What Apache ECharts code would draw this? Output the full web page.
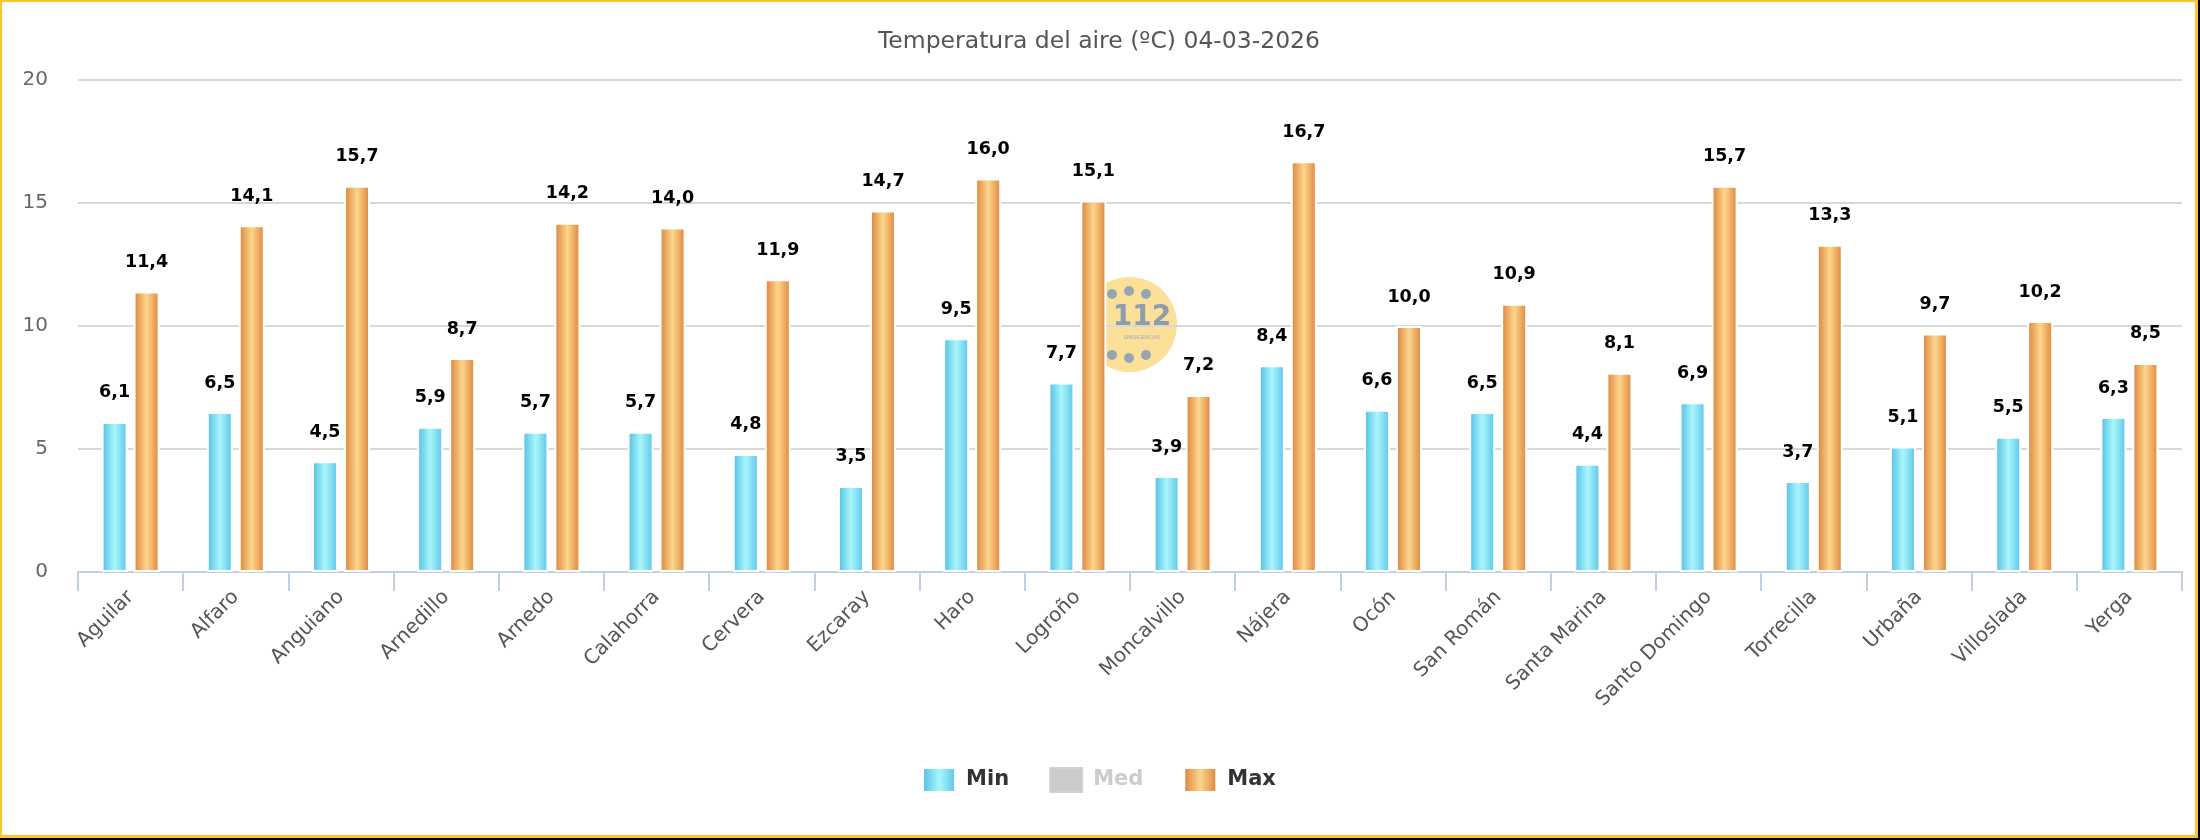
<!DOCTYPE html>
<html>
<head>
<meta charset="utf-8">
<script src="https://cdn.jsdelivr.net/npm/echarts@6/dist/echarts.min.js"></script>
<style>
  html, body { margin: 0; padding: 0; background: #000; width: 2200px; height: 840px; overflow: hidden; }
  #frame { position: absolute; left: 0; top: 0; width: 2198px; height: 838px; box-sizing: border-box; border: 2px solid #fcc530; border-right-width: 3px; border-bottom-width: 3px; background: #fff; }
  #chart { position: absolute; left: 0; top: 0; width: 2198px; height: 838px; }
</style>
</head>
<body>
<div id="frame"></div>
<div id="chart"></div>
<script>
const titleText = 'Temperatura del aire (ºC) 04-03-2026';
const categories = ['Aguilar', 'Alfaro', 'Anguiano', 'Arnedillo', 'Arnedo', 'Calahorra', 'Cervera', 'Ezcaray', 'Haro', 'Logroño', 'Moncalvillo', 'Nájera', 'Ocón', 'San Román', 'Santa Marina', 'Santo Domingo', 'Torrecilla', 'Urbaña', 'Villoslada', 'Yerga'];
const minValues = [6.1, 6.5, 4.5, 5.9, 5.7, 5.7, 4.8, 3.5, 9.5, 7.7, 3.9, 8.4, 6.6, 6.5, 4.4, 6.9, 3.7, 5.1, 5.5, 6.3];
const medValues = [];
const maxValues = [11.4, 14.1, 15.7, 8.7, 14.2, 14.0, 11.9, 14.7, 16.0, 15.1, 7.2, 16.7, 10.0, 10.9, 8.1, 15.7, 13.3, 9.7, 10.2, 8.5];
const seriesNames = ['Min', 'Med', 'Max'];
const yTicks = { min: 0, max: 20, interval: 5 };

function grad(edge, mid, edge2) {
  return new echarts.graphic.LinearGradient(0, 0, 1, 0, [
    { offset: 0, color: edge }, { offset: 0.5, color: mid }, { offset: 1, color: edge2 }
  ]);
}
const labelCfg = {
  show: true, position: 'top', distance: 20,
  fontFamily: 'DejaVu Sans', fontSize: 17.5, fontWeight: 'bold', color: '#000',
  formatter: p => p.value.toFixed(1).replace('.', ',')
};
const chart = echarts.init(document.getElementById('chart'), null, { renderer: 'canvas' });
chart.setOption({
  animation: false,
  title: {
    text: titleText, left: 'center', top: 25,
    textStyle: { fontFamily: 'DejaVu Sans', fontSize: 23.5, fontWeight: 'normal', color: '#555' }
  },
  legend: {
    data: seriesNames, top: 762, left: 'center',
    itemWidth: 32, itemHeight: 24, itemGap: 40, icon: 'rect',
    selected: { Med: false },
    inactiveColor: '#ccc',
    textStyle: { fontFamily: 'DejaVu Sans', fontSize: 21, fontWeight: 'bold', color: '#333', padding: [0, 0, 0, 6] }
  },
  grid: { left: 78, right: 16, top: 80, bottom: 266, containLabel: false },
  xAxis: {
    type: 'category', data: categories,
    axisLine: { lineStyle: { color: '#c0d0e0', width: 2 } },
    axisTick: { show: true, length: 19, lineStyle: { color: '#c0d0e0', width: 2 } },
    axisLabel: { rotate: 45, interval: 0, margin: 22, fontFamily: 'DejaVu Sans', fontSize: 20, color: '#555' }
  },
  yAxis: {
    type: 'value', min: yTicks.min, max: yTicks.max, interval: yTicks.interval,
    axisLine: { show: false }, axisTick: { show: false },
    axisLabel: { margin: 30, fontFamily: 'DejaVu Sans', fontSize: 20, color: '#666' },
    splitLine: { lineStyle: { color: '#d8d8d8', width: 2 } }
  },
  graphic: [{
    type: 'group', left: 1082, top: 277, z: -10,
    children: [
      { type: 'circle', shape: { cx: 47.5, cy: 47.5, r: 47.5 }, style: { fill: '#fbe09a' }, z: -10 },
      { type: 'circle', shape: { cx: 30, cy: 17, r: 5 }, style: { fill: '#97a5b3' }, z: -9 },
      { type: 'circle', shape: { cx: 47, cy: 14, r: 5 }, style: { fill: '#97a5b3' }, z: -9 },
      { type: 'circle', shape: { cx: 64, cy: 17, r: 5 }, style: { fill: '#97a5b3' }, z: -9 },
      { type: 'circle', shape: { cx: 30, cy: 78, r: 5 }, style: { fill: '#97a5b3' }, z: -9 },
      { type: 'circle', shape: { cx: 47, cy: 81, r: 5 }, style: { fill: '#97a5b3' }, z: -9 },
      { type: 'circle', shape: { cx: 64, cy: 78, r: 5 }, style: { fill: '#97a5b3' }, z: -9 },
      { type: 'text', x: 60, y: 41, z: -9, style: { text: '112', fill: '#8e9dac', font: 'bold 28px "DejaVu Sans"', textAlign: 'center', textVerticalAlign: 'middle' } },
      { type: 'text', x: 60, y: 61, z: -9, style: { text: 'EMERGENCIAS', fill: '#a0abb5', font: '5px "DejaVu Sans"', textAlign: 'center', textVerticalAlign: 'middle' } }
    ]
  }],
  series: [
    { name: 'Min', type: 'bar', data: minValues, barWidth: 26, barGap: '23%',
      itemStyle: { color: grad('#4dbde2', '#a9f6fc', '#58c4e6'), borderColor: '#fff', borderWidth: 2 },
      label: labelCfg },
    { name: 'Med', type: 'bar', data: medValues, barWidth: 26, barGap: '23%',
      itemStyle: { color: '#cccccc', borderColor: '#fff', borderWidth: 2 },
      label: labelCfg },
    { name: 'Max', type: 'bar', data: maxValues, barWidth: 26, barGap: '23%',
      itemStyle: { color: grad('#db7f37', '#fcd68c', '#dd8339'), borderColor: '#fff', borderWidth: 2 },
      label: labelCfg }
  ]
});
</script>
</body>
</html>
